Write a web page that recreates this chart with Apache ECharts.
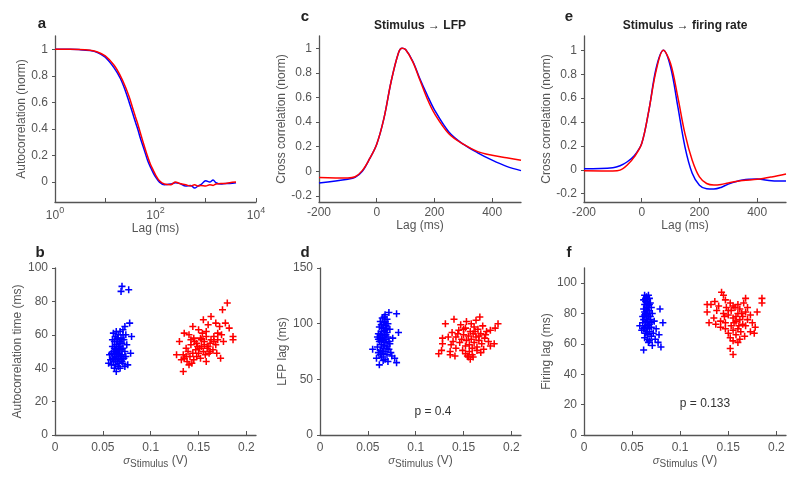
<!DOCTYPE html>
<html><head><meta charset="utf-8">
<script src="https://cdn.jsdelivr.net/npm/echarts@6/dist/echarts.min.js"></script>
<style>html,body{margin:0;padding:0;background:#fff}#c{width:795px;height:480px}</style>
</head><body><div id="c"></div>
<script>
// ---- Panel a: autocorrelation ----
var acLag = [1,2,3,5,7,10,15,20,25,30,35,40,45,50,60,70,80,90,100,120,150,200,250,300,400,500,600,700,800,1000,1200,1400,1600,2000,2500,3000,4000];
var acBlue = [1,1,0.998,0.99,0.975,0.94,0.86,0.78,0.69,0.6,0.52,0.45,0.39,0.33,0.24,0.16,0.11,0.07,0.04,0.0,-0.02,-0.015,-0.005,-0.01,-0.03,-0.025,-0.045,-0.03,-0.02,0.01,0.0,0.015,-0.005,-0.015,-0.01,-0.01,-0.005];
var acRed = [1,1,0.999,0.992,0.98,0.95,0.88,0.80,0.72,0.64,0.56,0.49,0.43,0.37,0.27,0.19,0.13,0.09,0.055,0.01,-0.015,-0.02,0.0,-0.01,-0.02,-0.03,-0.02,-0.03,-0.025,-0.03,-0.02,-0.025,-0.015,-0.01,-0.01,-0.005,0];

// ---- Panel c: stimulus -> LFP ----
var xcLag = [-200,-100,-75,-50,-25,0,25,50,75,88,100,125,150,175,200,250,300,350,400,450,500];
var lfpRed = [-0.05,-0.055,-0.045,0.005,0.10,0.22,0.43,0.73,0.96,1.0,0.99,0.89,0.74,0.59,0.47,0.305,0.22,0.16,0.13,0.11,0.09];
var lfpBlue = [-0.095,-0.065,-0.05,0.0,0.10,0.22,0.43,0.73,0.96,1.0,0.99,0.895,0.75,0.62,0.50,0.32,0.22,0.15,0.09,0.04,0.005];

// ---- Panel e: stimulus -> firing rate ----
var frLag = [-200,-100,-75,-50,-25,0,25,50,75,100,125,150,175,200,225,250,275,300,350,400,450,500];
var frRed = [-0.008,-0.01,-0.003,0.04,0.11,0.22,0.50,0.83,1.0,0.89,0.61,0.30,0.08,-0.06,-0.115,-0.128,-0.123,-0.11,-0.09,-0.08,-0.06,-0.035];
var frBlue = [0.008,0.017,0.033,0.067,0.12,0.22,0.50,0.85,1.0,0.86,0.53,0.19,-0.03,-0.13,-0.16,-0.162,-0.148,-0.12,-0.086,-0.078,-0.092,-0.095];

// ---- Panel b: autocorrelation time vs sigma ----
var bBlue = [[0.070,89],[0.069,86],[0.077,87],[0.078,67],[0.073,65],[0.071,63],[0.080,59],[0.074,60],[0.068,62],[0.064,62],[0.061,61],[0.066,60],[0.063,59],[0.069,58],[0.072,57],[0.065,57],[0.062,56],[0.067,55],[0.070,55],[0.075,54],[0.064,54],[0.060,53],[0.068,53],[0.066,52],[0.071,52],[0.063,51],[0.069,51],[0.073,50],[0.061,50],[0.065,50],[0.067,49],[0.079,49],[0.059,49],[0.062,48],[0.070,48],[0.057,48],[0.064,47],[0.068,47],[0.066,46],[0.060,46],[0.072,46],[0.063,45],[0.058,45],[0.069,45],[0.065,44],[0.061,44],[0.067,43],[0.056,43],[0.071,43],[0.063,42],[0.059,42],[0.066,41],[0.073,41],[0.062,40],[0.068,40],[0.064,38],[0.070,44],[0.066,48],[0.062,52],[0.068,56],[0.065,58],[0.071,60],[0.060,57],[0.067,51],[0.064,49],[0.069,47],[0.061,45],[0.074,47],[0.076,42]];
var bRed = [[0.18,79],[0.175,75],[0.163,71],[0.155,69],[0.168,67],[0.178,67],[0.16,66],[0.144,65],[0.172,65],[0.182,64],[0.15,63],[0.158,62],[0.186,59],[0.186,57],[0.135,61],[0.14,60],[0.166,59],[0.13,56],[0.145,58],[0.152,58],[0.17,57],[0.176,56],[0.148,55],[0.156,56],[0.162,55],[0.142,54],[0.168,54],[0.153,53],[0.159,52],[0.137,52],[0.147,51],[0.165,51],[0.173,46],[0.127,48],[0.134,48],[0.141,47],[0.15,49],[0.157,48],[0.161,49],[0.135,46],[0.145,45],[0.152,46],[0.138,44],[0.143,43],[0.14,42],[0.134,38],[0.155,50],[0.149,53],[0.163,57],[0.158,59],[0.154,61],[0.17,61],[0.146,56],[0.139,50],[0.132,45],[0.16,53],[0.166,56],[0.174,60],[0.151,52],[0.144,49],[0.156,54],[0.162,50],[0.148,47],[0.137,47],[0.153,57],[0.169,49],[0.142,57],[0.158,44]];

// ---- Panel d: LFP lag vs sigma ----
var dBlue = [[0.072,110],[0.080,109],[0.068,108],[0.065,105],[0.070,104],[0.063,102],[0.067,101],[0.071,100],[0.064,99],[0.069,98],[0.062,97],[0.066,96],[0.073,95],[0.068,94],[0.064,93],[0.070,92],[0.082,92],[0.061,91],[0.067,90],[0.065,89],[0.071,88],[0.063,87],[0.076,87],[0.069,86],[0.066,85],[0.062,84],[0.068,83],[0.073,82],[0.064,81],[0.070,80],[0.060,79],[0.066,78],[0.055,77],[0.072,77],[0.063,76],[0.068,75],[0.061,74],[0.066,73],[0.070,72],[0.075,71],[0.064,70],[0.059,69],[0.068,68],[0.078,69],[0.066,67],[0.071,66],[0.080,65],[0.062,63],[0.065,87],[0.067,93],[0.069,96],[0.063,90],[0.066,99],[0.068,102],[0.064,84],[0.070,78],[0.067,80],[0.065,75],[0.061,86],[0.072,84],[0.069,90],[0.074,74],[0.063,72],[0.060,88],[0.067,106]];
var dRed = [[0.167,106],[0.14,104],[0.163,103],[0.153,102],[0.131,100],[0.158,100],[0.186,100],[0.147,99],[0.17,98],[0.161,97],[0.183,96],[0.152,96],[0.165,95],[0.178,94],[0.145,94],[0.157,93],[0.174,93],[0.138,92],[0.16,91],[0.168,91],[0.15,90],[0.155,89],[0.142,88],[0.163,88],[0.134,88],[0.128,87],[0.172,87],[0.158,86],[0.148,86],[0.166,85],[0.153,85],[0.139,84],[0.176,84],[0.161,83],[0.146,83],[0.182,82],[0.169,82],[0.128,82],[0.156,81],[0.137,81],[0.178,80],[0.152,80],[0.164,79],[0.142,78],[0.159,78],[0.171,77],[0.127,76],[0.149,76],[0.164,76],[0.136,75],[0.156,75],[0.168,74],[0.124,73],[0.152,73],[0.159,72],[0.136,72],[0.141,71],[0.155,70],[0.16,70],[0.157,68],[0.154,71],[0.162,93],[0.15,95],[0.144,91],[0.166,89],[0.173,90]];

// ---- Panel f: firing lag vs sigma ----
var fBlue = [[0.063,92],[0.067,92],[0.065,91],[0.068,90],[0.062,89],[0.066,89],[0.064,88],[0.069,87],[0.063,86],[0.067,86],[0.065,85],[0.070,84],[0.079,83],[0.062,83],[0.066,82],[0.068,81],[0.064,80],[0.071,80],[0.063,79],[0.067,78],[0.065,77],[0.069,76],[0.062,76],[0.073,75],[0.066,75],[0.061,74],[0.082,74],[0.068,73],[0.064,72],[0.058,72],[0.070,71],[0.066,70],[0.062,70],[0.075,70],[0.060,69],[0.068,68],[0.064,67],[0.072,67],[0.078,66],[0.066,66],[0.070,65],[0.063,64],[0.074,63],[0.068,62],[0.067,61],[0.077,61],[0.071,59],[0.080,58],[0.062,56],[0.065,83],[0.064,90],[0.066,87],[0.067,84],[0.063,81],[0.065,79],[0.069,78],[0.064,74],[0.067,72],[0.065,68],[0.070,74],[0.066,63],[0.068,86],[0.061,78],[0.063,71]];
var fRed = [[0.143,94],[0.145,92],[0.147,89],[0.136,88],[0.168,90],[0.185,90],[0.152,87],[0.185,87],[0.128,86],[0.16,86],[0.132,86],[0.166,87],[0.14,85],[0.155,85],[0.148,84],[0.157,84],[0.162,83],[0.128,81],[0.138,82],[0.153,82],[0.168,81],[0.18,81],[0.145,80],[0.16,80],[0.173,79],[0.15,79],[0.165,78],[0.135,77],[0.155,77],[0.17,76],[0.162,76],[0.142,75],[0.158,75],[0.175,74],[0.147,74],[0.13,74],[0.165,73],[0.137,73],[0.153,72],[0.168,72],[0.142,71],[0.178,71],[0.16,70],[0.147,70],[0.155,69],[0.173,68],[0.163,68],[0.15,67],[0.177,67],[0.158,66],[0.167,65],[0.152,64],[0.162,63],[0.155,62],[0.16,61],[0.152,57],[0.155,53],[0.158,78],[0.15,82],[0.164,80],[0.156,74],[0.17,84],[0.146,78],[0.161,72]];

// tick labels
var sigmaTicks = [0,0.05,0.1,0.15,0.2];
var lagTicks = [-200,0,200,400];
var acTicks = [0,0.2,0.4,0.6,0.8,1];
var ccTicks = [-0.2,0,0.2,0.4,0.6,0.8,1];
var bTicks = [0,20,40,60,80,100];
var dTicks = [0,50,100,150];
var fTicks = [0,20,40,60,80,100];

var FONT = 'Liberation Sans, Arial, Helvetica, sans-serif';
var AX = '#555';
var BLUE = '#0000ff', RED = '#ff0000';
var PLUS = 'path://M3.9,0H6.1V3.9H10V6.1H6.1V10H3.9V6.1H0V3.9H3.9Z';

function pair(xs, ys){ return xs.map(function(x,i){ return [x, ys[i]]; }); }

function yAx(gi, min, max, ticks, name, gap){
  return {type:'value', gridIndex:gi, min:min, max:max,
    name:name, nameLocation:'middle', nameGap:gap, nameRotate:90,
    nameTextStyle:{color:AX, fontSize:12, fontFamily:FONT},
    axisLine:{show:true, onZero:false, lineStyle:{color:AX, width:1.3}},
    axisTick:{show:true, inside:false, length:3, lineStyle:{color:AX}, customValues:ticks},
    axisLabel:{color:AX, fontSize:12, fontFamily:FONT, margin:7, customValues:ticks},
    splitLine:{show:false}};
}
function xAx(gi, min, max, ticks, nameObj, gap, margin){
  var o = {type:'value', gridIndex:gi, min:min, max:max,
    nameLocation:'middle', nameGap:gap,
    axisLine:{show:true, onZero:false, lineStyle:{color:AX, width:1.3}},
    axisTick:{show:true, inside:true, length:4, lineStyle:{color:AX}, customValues:ticks},
    axisLabel:{color:AX, fontSize:12, fontFamily:FONT, margin:margin, customValues:ticks},
    splitLine:{show:false}};
  for (var k in nameObj) o[k] = nameObj[k];
  return o;
}
var lagName = {name:'Lag (ms)', nameTextStyle:{color:AX, fontSize:12, fontFamily:FONT}};
var sigName = {name:'{s|σ}{sub|Stimulus}{v| (V)}', nameTextStyle:{color:AX, fontFamily:FONT,
  rich:{s:{fontSize:11, fontStyle:'italic', color:AX, fontFamily:FONT, verticalAlign:'middle', lineHeight:16},
        sub:{fontSize:10, color:AX, fontFamily:FONT, verticalAlign:'bottom', lineHeight:16},
        v:{fontSize:12, color:AX, fontFamily:FONT, verticalAlign:'middle', lineHeight:16}}}};

var grids = [
  {left:55, top:36, width:201, height:166},
  {left:319, top:36, width:202, height:166},
  {left:584, top:36, width:202, height:166},
  {left:55, top:268, width:201, height:167},
  {left:320, top:268, width:201, height:167},
  {left:584, top:268, width:202, height:167}
];

var xAxes = [
  {type:'log', gridIndex:0, min:1, max:10000, logBase:10, nameLocation:'middle', nameGap:18,
   name:'Lag (ms)', nameTextStyle:{color:AX, fontSize:12, fontFamily:FONT},
   axisLine:{show:true, onZero:false, lineStyle:{color:AX, width:1.3}},
   axisTick:{show:true, inside:true, length:4, lineStyle:{color:AX}},
   axisLabel:{color:AX, fontFamily:FONT, margin:4,
     formatter:function(v){ var e=Math.round(Math.log(v)/Math.LN10); if(e%2!==0) return ''; return '{b|10}{p|'+e+'}'; },
     rich:{b:{fontSize:12, color:AX, fontFamily:FONT, verticalAlign:'bottom', lineHeight:16},
           p:{fontSize:9, color:AX, fontFamily:FONT, verticalAlign:'top', lineHeight:16}}},
   minorTick:{show:false}, splitLine:{show:false}},
  xAx(1, -200, 500, lagTicks, lagName, 18, 5),
  xAx(2, -200, 500, lagTicks, lagName, 18, 5),
  xAx(3, 0, 0.21, sigmaTicks, sigName, 17, 7),
  xAx(4, 0, 0.21, sigmaTicks, sigName, 17, 7),
  xAx(5, 0, 0.21, sigmaTicks, sigName, 17, 7)
];
var yAxes = [
  yAx(0, -0.15, 1.1, acTicks, 'Autocorrelation (norm)', 27),
  yAx(1, -0.25, 1.1, ccTicks, 'Cross correlation (norm)', 30),
  yAx(2, -0.27, 1.12, ccTicks, 'Cross correlation (norm)', 30),
  yAx(3, 0, 100, bTicks, 'Autocorrelation time (ms)', 30),
  yAx(4, 0, 150, dTicks, 'LFP lag (ms)', 30),
  yAx(5, 0, 110, fTicks, 'Firing lag (ms)', 30)
];

function line(i, data, color){
  return {type:'line', xAxisIndex:i, yAxisIndex:i, data:data, showSymbol:false, smooth:0.35,
    lineStyle:{color:color, width:1.5}, itemStyle:{color:color}, silent:true, animation:false};
}
function scat(i, data, color){
  return {type:'scatter', xAxisIndex:i, yAxisIndex:i, data:data, symbol:PLUS, symbolSize:7,
    itemStyle:{color:color, opacity:1}, silent:true, animation:false};
}

var series = [
  line(0, pair(acLag, acBlue), BLUE), line(0, pair(acLag, acRed), RED),
  line(1, pair(xcLag, lfpBlue), BLUE), line(1, pair(xcLag, lfpRed), RED),
  line(2, pair(frLag, frBlue), BLUE), line(2, pair(frLag, frRed), RED),
  scat(3, bBlue, BLUE), scat(3, bRed, RED),
  scat(4, dBlue, BLUE), scat(4, dRed, RED),
  scat(5, fBlue, BLUE), scat(5, fRed, RED)
];

function txt(s, x, y, size, bold, color){
  return {type:'text', x:x, y:y, silent:true,
    style:{text:s, font:(bold?'bold ':'')+size+'px '+FONT, fill:color||'#222', align:'center', verticalAlign:'middle'}};
}
var graphics = [
  txt('a', 42, 24, 15, true), txt('b', 40, 253, 15, true),
  txt('c', 305, 17, 15, true), txt('d', 305, 253, 15, true),
  txt('e', 569, 17, 15, true), txt('f', 569, 253, 15, true),
  txt('Stimulus \u2192 LFP', 420, 26, 12, true, '#222'),
  txt('Stimulus \u2192 firing rate', 685, 26, 12, true, '#222'),
  txt('p = 0.4', 433, 412, 12, false, '#333'),
  txt('p = 0.133', 705, 404, 12, false, '#333')
];

var chart = echarts.init(document.getElementById('c'), null, {renderer:'canvas'});
chart.setOption({animation:false, backgroundColor:'#fff', grid:grids, xAxis:xAxes, yAxis:yAxes, series:series, graphic:graphics});
</script></body></html>
